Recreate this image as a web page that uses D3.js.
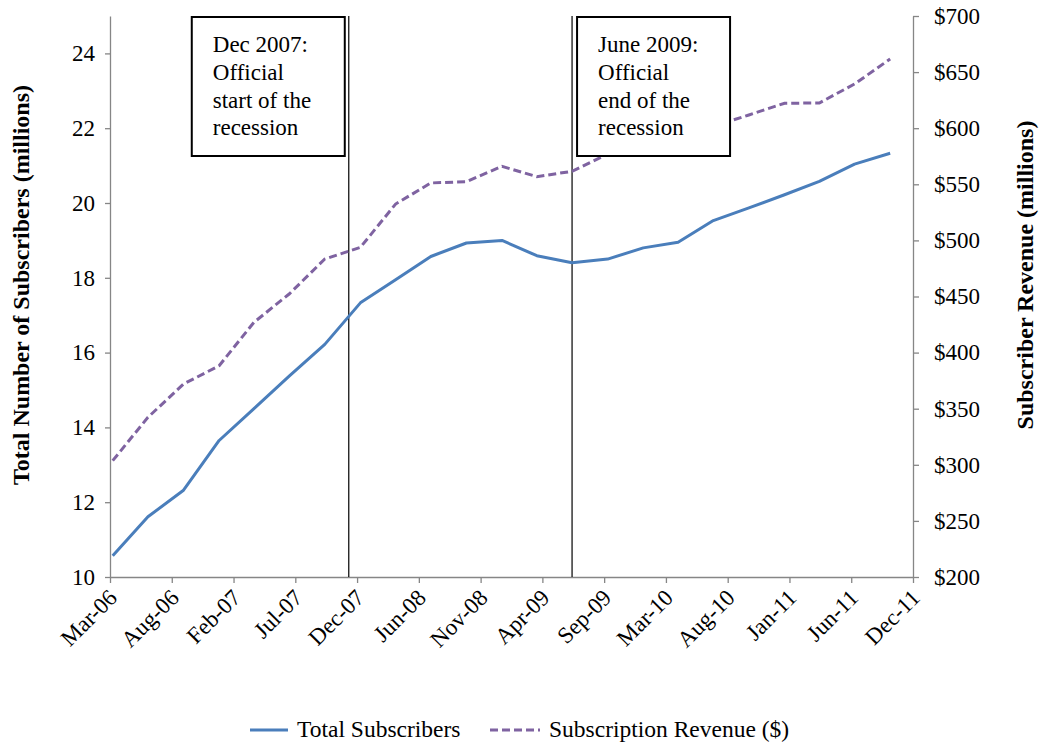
<!DOCTYPE html>
<html lang="en">
<head>
    <meta charset="UTF-8">
    <title>Subscribers and Subscription Revenue</title>
    <script src="https://cdnjs.cloudflare.com/ajax/libs/d3/7.8.5/d3.min.js"></script>
    <style>
        body {
            margin: 0;
            background: #fff;
        }
        svg {
            display: block;
        }
        svg text {
            font-family: "Liberation Serif", "Times New Roman", serif;
        }
    </style>
</head>
<body>
    <svg id="chart" width="1039" height="744"></svg>
    <script>
        // quarterly observations
        const dates = [
            "2006-03-31", "2006-06-30", "2006-09-30", "2006-12-31",
            "2007-03-31", "2007-06-30", "2007-09-30", "2007-12-31",
            "2008-03-31", "2008-06-30", "2008-09-30", "2008-12-31",
            "2009-03-31", "2009-06-30", "2009-09-30", "2009-12-31",
            "2010-03-31", "2010-06-30", "2010-09-30", "2010-12-31",
            "2011-03-31", "2011-06-30", "2011-09-30"
        ];
        // millions
        const subscribers = [
            10.57, 11.61, 12.32, 13.65, 14.5, 15.37, 16.22, 17.33,
            17.95, 18.57, 18.93, 19.0, 18.59, 18.4, 18.5, 18.8,
            18.95, 19.53, 19.87, 20.22, 20.58, 21.04, 21.33
        ];
        // $ millions
        const revenue = [
            303.7, 342.3, 372, 388.3, 427, 452.2, 483.4, 493.8,
            532.4, 551.2, 552.3, 566, 556.8, 561.6, 577, 591.9,
            580.6, 601.7, 611.8, 622.2, 622.5, 639.4, 661.7
        ];
        const xTickLabels = [
            "Mar-06", "Aug-06", "Feb-07", "Jul-07", "Dec-07", "Jun-08", "Nov-08",
            "Apr-09", "Sep-09", "Mar-10", "Aug-10", "Jan-11", "Jun-11", "Dec-11"
        ];
        const leftTicks = [10, 12, 14, 16, 18, 20, 22, 24];
        const rightTicks = [200, 250, 300, 350, 400, 450, 500, 550, 600, 650, 700];
        const events = [
            { date: "2007-12-01", lines: ["Dec 2007:", "Official", "start of the", "recession"] },
            { date: "2009-06-30", lines: ["June 2009:", "Official", "end of the", "recession"] }
        ];
        const axisRange = ["2006-03-24", "2011-11-28"];

        const parse = d3.timeParse("%Y-%m-%d");
        const data = dates.map((d, i) => ({ date: parse(d), subs: subscribers[i], rev: revenue[i] }));

        const margin = { top: 16, left: 110 };
        const width = 803;
        const height = 561;
        const blue = "#4A7EBB";
        const purple = "#7F63A1";
        const axisGray = "#868686";
        const serif = "Liberation Serif, Times New Roman, serif";

        const svg = d3.select("#chart");
        const g = svg.append("g").attr("transform", `translate(${margin.left},${margin.top})`);

        const x = d3.scaleTime().domain(axisRange.map(parse)).range([0, width]);
        const yL = d3.scaleLinear().domain([10, 25]).range([height, 0]);
        const yR = d3.scaleLinear().domain([200, 700]).range([height, 0]);

        // evenly spaced date ticks, as in the source axis
        const [t0, t1] = x.domain();
        const xTicks = xTickLabels.map((_, i) => new Date(+t0 + (t1 - t0) * i / (xTickLabels.length - 1)));

        // axes
        const leftAxis = g.append("g")
            .call(d3.axisLeft(yL).tickValues(leftTicks).tickSize(5).tickPadding(10).tickSizeOuter(0));
        const rightAxis = g.append("g")
            .attr("transform", `translate(${width},0)`)
            .call(d3.axisRight(yR).tickValues(rightTicks).tickSize(6).tickPadding(15)
                .tickFormat(d => "$" + d).tickSizeOuter(0));
        const bottomAxis = g.append("g")
            .attr("transform", `translate(0,${height})`)
            .call(d3.axisBottom(x).tickValues(xTicks).tickSize(6).tickSizeOuter(0)
                .tickFormat((d, i) => xTickLabels[i]));

        [leftAxis, rightAxis, bottomAxis].forEach(a => {
            a.select(".domain").attr("stroke", axisGray).attr("stroke-width", 1.3);
            a.selectAll(".tick line").attr("stroke", axisGray).attr("stroke-width", 1.3);
            a.selectAll(".tick text")
                .attr("fill", "#000")
                .attr("font-size", 23)
                .style("font-family", serif);
        });

        bottomAxis.selectAll(".tick text")
            .attr("text-anchor", "end")
            .attr("dy", null)
            .attr("y", 0)
            .attr("transform", "translate(8,22) rotate(-45)");

        // event lines
        g.append("g")
            .selectAll("line")
            .data(events)
            .join("line")
            .attr("x1", d => x(parse(d.date)))
            .attr("x2", d => x(parse(d.date)))
            .attr("y1", 0)
            .attr("y2", height)
            .attr("stroke", "#000")
            .attr("stroke-width", 1.2);

        // lines
        g.append("path")
            .datum(data)
            .attr("fill", "none")
            .attr("stroke", purple)
            .attr("stroke-width", 3)
            .attr("stroke-dasharray", "8,4")
            .attr("d", d3.line().x(d => x(d.date)).y(d => yR(d.rev)));

        g.append("path")
            .datum(data)
            .attr("fill", "none")
            .attr("stroke", blue)
            .attr("stroke-width", 3)
            .attr("stroke-linejoin", "round")
            .attr("d", d3.line().x(d => x(d.date)).y(d => yL(d.subs)));

        // annotation boxes
        const boxW = 153, boxH = 139;
        const boxes = g.append("g")
            .selectAll("g")
            .data(events)
            .join("g")
            .attr("transform", (d, i) => {
                const lx = x(parse(d.date));
                return `translate(${i === 0 ? lx - 4 - boxW : lx + 5},1)`;
            });
        boxes.append("rect")
            .attr("width", boxW)
            .attr("height", boxH)
            .attr("fill", "#fff")
            .attr("stroke", "#000")
            .attr("stroke-width", 2);
        boxes.each(function (d) {
            d3.select(this).selectAll("text")
                .data(d.lines)
                .join("text")
                .attr("x", 21)
                .attr("y", (l, j) => 35 + j * 27.8)
                .attr("font-size", 23)
                .style("font-family", serif)
                .text(l => l);
        });

        // axis titles
        svg.append("text")
            .attr("transform", `translate(29,${margin.top + 269}) rotate(-90)`)
            .attr("text-anchor", "middle")
            .attr("font-size", 24)
            .attr("font-weight", "bold")
            .style("font-family", serif)
            .text("Total Number of Subscribers (millions)");

        svg.append("text")
            .attr("transform", `translate(1033,${margin.top + 259}) rotate(-90)`)
            .attr("text-anchor", "middle")
            .attr("font-size", 24)
            .attr("font-weight", "bold")
            .style("font-family", serif)
            .text("Subscriber Revenue (millions)");

        // legend
        const legend = svg.append("g").attr("transform", "translate(250,730)");
        const items = [
            { label: "Total Subscribers", color: blue, dash: null, x: 0, len: 38 },
            { label: "Subscription Revenue ($)", color: purple, dash: "8,4", x: 240, len: 50 }
        ];
        items.forEach(it => {
            const li = legend.append("g").attr("transform", `translate(${it.x},0)`);
            li.append("line")
                .attr("x1", 0).attr("x2", it.len)
                .attr("stroke", it.color)
                .attr("stroke-width", 3)
                .attr("stroke-dasharray", it.dash);
            li.append("text")
                .attr("x", it.len + 9)
                .attr("y", 7)
                .attr("font-size", 23.5)
                .style("font-family", serif)
                .text(it.label);
        });
    </script>
</body>
</html>
